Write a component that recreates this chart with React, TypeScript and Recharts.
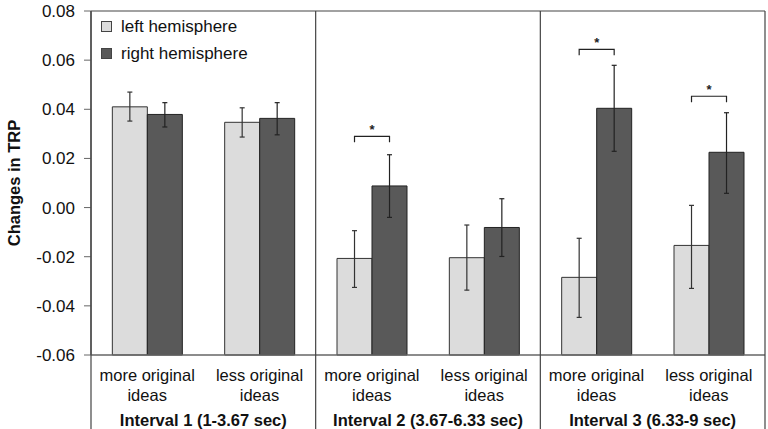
import React from 'react'
import {
  BarChart,
  Bar,
  XAxis,
  YAxis,
  ErrorBar,
  Legend,
  LabelList,
  ReferenceLine,
} from 'recharts'

const categories = [
  'more original ideas',
  'less original ideas',
  'more original ideas',
  'less original ideas',
  'more original ideas',
  'less original ideas',
]
const intervals = [
  'Interval 1 (1-3.67 sec)',
  'Interval 1 (1-3.67 sec)',
  'Interval 2 (3.67-6.33 sec)',
  'Interval 2 (3.67-6.33 sec)',
  'Interval 3 (6.33-9 sec)',
  'Interval 3 (6.33-9 sec)',
]
const leftValues = [0.041, 0.0347, -0.0207, -0.0204, -0.0284, -0.0154]
const leftLow = [0.0352, 0.0287, -0.0325, -0.0336, -0.0447, -0.0329]
const leftHigh = [0.047, 0.0406, -0.0094, -0.0071, -0.0125, 0.0009]
const rightValues = [0.0379, 0.0363, 0.0088, -0.0081, 0.0404, 0.0225]
const rightLow = [0.0328, 0.0296, -0.004, -0.0199, 0.0229, 0.0058]
const rightHigh = [0.0427, 0.0427, 0.0215, 0.0036, 0.0579, 0.0386]
// height of the significance bracket (null = none)
const sigBracket = [null, null, 0.029, null, 0.0644, 0.0453]
const yTicks = [-0.06, -0.04, -0.02, 0, 0.02, 0.04, 0.06, 0.08]

const Y_MIN = -0.06
const Y_MAX = 0.08
const W = 768
const H = 429
const MARGIN = { top: 11, right: 3, bottom: 0, left: 0 }
const FONT = '"Liberation Sans", Arial, sans-serif'
const LINE = '#444'

// bars in the original rise from the bottom of the axis, so shift by Y_MIN
const data = categories.map((cat, i) => ({
  cat,
  interval: intervals[i],
  left: leftValues[i] - Y_MIN,
  leftErr: [leftValues[i] - leftLow[i], leftHigh[i] - leftValues[i]],
  right: rightValues[i] - Y_MIN,
  rightErr: [rightValues[i] - rightLow[i], rightHigh[i] - rightValues[i]],
  sig: sigBracket[i],
}))

const fmt = (t: number) => {
  const v = Math.round((t + Y_MIN) * 100) / 100
  return v === 0 ? '0.00' : v.toFixed(2)
}

const CategoryTick = (props: any) => {
  const { x, y, payload } = props
  const s = String(payload.value)
  const cut = s.lastIndexOf(' ')
  return (
    <text x={x} y={y} textAnchor="middle" fontSize={16.5} fill="#111" fontFamily={FONT}>
      <tspan x={x} dy={18}>{s.slice(0, cut)}</tspan>
      <tspan x={x} dy={20}>{s.slice(cut + 1)}</tspan>
    </text>
  )
}

const IntervalTick = (props: any) => {
  const { x, y, payload, index, visibleTicksCount, width } = props
  const half =
    payload && typeof payload.offset === 'number' && payload.offset > 0
      ? payload.offset
      : width / (visibleTicksCount || 3) / 2
  return (
    <g>
      <line x1={x - half} x2={x - half} y1={MARGIN.top} y2={H} stroke={LINE} strokeWidth={1.2} />
      {index === (visibleTicksCount || 3) - 1 && (
        <line x1={x + half} x2={x + half} y1={MARGIN.top} y2={H} stroke={LINE} strokeWidth={1.2} />
      )}
      <text x={x} y={y + 13} textAnchor="middle" fontSize={16.5} fontWeight="bold" fill="#111" fontFamily={FONT}>
        {payload.value}
      </text>
    </g>
  )
}

const Bracket = (props: any) => {
  const { value } = props
  if (value === null || value === undefined) return null
  const vb = props.viewBox ?? props
  const bottom = vb.y + vb.height
  const pxPerUnit = (bottom - MARGIN.top) / (Y_MAX - Y_MIN)
  const by = bottom - (value - Y_MIN) * pxPerUnit
  const x1 = vb.x - vb.width / 2
  const x2 = vb.x + vb.width / 2
  return (
    <g>
      <path d={`M${x1},${by + 6} V${by} H${x2} V${by + 6}`} fill="none" stroke="#222" strokeWidth={1.2} />
      <text x={(x1 + x2) / 2} y={by - 2} textAnchor="middle" fontSize={13} fontWeight="bold" fill="#222" fontFamily={FONT}>
        *
      </text>
    </g>
  )
}

const legendColors: Record<string, string> = { left: '#dcdcdc', right: '#595959' }

const renderLegend = (props: any) => (
  <div style={{ fontFamily: FONT, fontSize: 17, color: '#111' }}>
    {(props.payload || []).map((e: any) => (
      <div key={e.value} style={{ display: 'flex', alignItems: 'center', height: 27 }}>
        <span
          style={{
            display: 'inline-block',
            width: 9,
            height: 9,
            background: legendColors[e.dataKey] ?? e.color,
            border: '1px solid #444',
            marginRight: 9,
          }}
        />
        <span>{e.value}</span>
      </div>
    ))}
  </div>
)

const App = () => (
  <div style={{ position: 'absolute', left: 0, top: 0, background: '#fff' }}>
    <BarChart
      width={W}
      height={H}
      data={data}
      margin={MARGIN}
      barCategoryGap="19%"
      barGap={0}
      style={{ fontFamily: FONT }}>
      <XAxis
        dataKey="cat"
        height={50}
        tick={<CategoryTick />}
        tickLine={false}
        axisLine={{ stroke: '#666', strokeWidth: 1.5 }}
        interval={0}
      />
      <XAxis
        xAxisId="interval"
        dataKey="interval"
        allowDuplicatedCategory={false}
        height={24}
        tick={<IntervalTick />}
        tickLine={false}
        axisLine={false}
        interval={0}
      />
      <YAxis
        domain={[0, Y_MAX - Y_MIN]}
        ticks={yTicks.map((t) => t - Y_MIN)}
        tickFormatter={fmt}
        width={91}
        tickSize={7}
        tickMargin={9}
        tick={{ fontSize: 17, fill: '#111', fontFamily: FONT }}
        tickLine={{ stroke: '#666' }}
        axisLine={{ stroke: '#666', strokeWidth: 1.5 }}
        label={{
          content: (p: any) => {
            const vb = p.viewBox
            const cx = vb.x + 20
            const cy = vb.y + vb.height / 2
            return (
              <text
                x={cx}
                y={cy}
                transform={`rotate(-90, ${cx}, ${cy})`}
                textAnchor="middle"
                fontSize={16.5}
                fontWeight="bold"
                fill="#111"
                fontFamily={FONT}>
                Changes in TRP
              </text>
            )
          },
        }}
      />
      <ReferenceLine y={Y_MAX - Y_MIN} stroke={LINE} strokeWidth={1.2} />
      <Legend
        layout="vertical"
        align="center"
        verticalAlign="middle"
        content={renderLegend}
        wrapperStyle={{ left: 101, top: 13, width: 'auto', height: 'auto' }}
      />
      <Bar
        dataKey="left"
        name="left hemisphere"
        fill="#dcdcdc"
        stroke="#333"
        strokeWidth={1}
        isAnimationActive={false}>
        <ErrorBar dataKey="leftErr" direction="y" width={2.5} stroke="#333" strokeWidth={1.2} />
      </Bar>
      <Bar
        dataKey="right"
        name="right hemisphere"
        fill="#595959"
        stroke="#222"
        strokeWidth={1}
        isAnimationActive={false}>
        <ErrorBar dataKey="rightErr" direction="y" width={2.5} stroke="#222" strokeWidth={1.2} />
        <LabelList dataKey="sig" content={<Bracket />} />
      </Bar>
    </BarChart>
  </div>
)

export default App
